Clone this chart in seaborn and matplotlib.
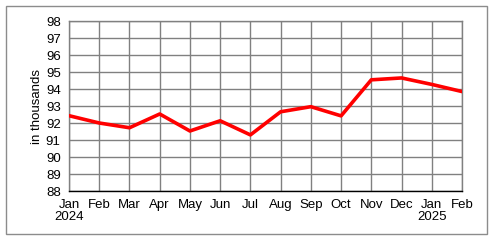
import matplotlib
matplotlib.use("Agg")
import matplotlib.pyplot as plt
import seaborn as sns
import pandas as pd
from matplotlib.patches import Rectangle

months = ["Jan\n2024", "Feb", "Mar", "Apr", "May", "Jun", "Jul", "Aug", "Sep", "Oct", "Nov", "Dec", "Jan\n2025", "Feb"]
values = [92.43, 92.0, 91.72, 92.53, 91.53, 92.13, 91.3, 92.66, 92.96, 92.42, 94.54, 94.65, 94.27, 93.85]
y_ticks = list(range(88, 99))

sns.set_theme(style="white")
plt.rcParams['font.family'] = ['Liberation Sans', 'DejaVu Sans']

df = pd.DataFrame({"idx": range(len(values)), "value": values})

fig = plt.figure(figsize=(4.98, 2.45), dpi=100)
ax = fig.add_axes([69/498, 1-191/245, (462-69)/498, (191-21)/245])

fig.patches.append(Rectangle((6/498, 11/245), 481/498, 228/245, transform=fig.transFigure,
                             fill=False, edgecolor="#8c8c8c", linewidth=1.0))

sns.lineplot(data=df, x="idx", y="value", ax=ax, color="#ff0000", linewidth=2.6, zorder=3)

ax.set_xlim(0, len(values)-1)
ax.set_ylim(88, 98)
ax.set_xticks(range(len(values)))
ax.set_xticklabels(months, fontsize=9.5, color="black", linespacing=1.0)
ax.set_yticks(y_ticks)
ax.set_yticklabels([str(t) for t in y_ticks], fontsize=9.5, color="black")
ax.set_xlabel("")
ax.set_ylabel("in thousands", fontsize=9.5, color="black", labelpad=2)

ax.grid(True, color="#808080", linewidth=1.0)
ax.set_axisbelow(True)
for s in ["top", "right", "left"]:
    ax.spines[s].set_color("#808080")
    ax.spines[s].set_linewidth(1.0)
ax.spines["bottom"].set_color("black")
ax.spines["bottom"].set_linewidth(1.0)
ax.tick_params(axis="x", direction="out", length=4, width=1, color="black", pad=2)
ax.tick_params(axis="y", direction="out", length=4, width=1, color="#808080", pad=2)

fig.savefig("out.png", dpi=100, facecolor="white")
